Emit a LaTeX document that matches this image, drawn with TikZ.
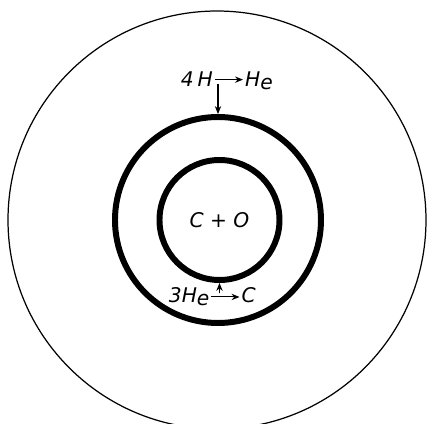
\documentclass[tikz,border=0pt]{standalone}
\usepackage{fontspec}
\usetikzlibrary{arrows.meta,positioning}
\newfontfamily\leroy[LetterSpace=20]{DejaVu Sans}
\newfontfamily\leroytight{DejaVu Sans}

\begin{document}
\begin{tikzpicture}[ring/.style={draw, circle, line width=3.4pt, inner sep=0pt},
  lettering/.style={font=\leroy\itshape\fontsize{11.5}{13}\selectfont, inner sep=1pt},
  tightlettering/.style={font=\leroytight\itshape\fontsize{11.5}{13}\selectfont, inner sep=1pt},
  flow/.style={-{Stealth[length=4.5pt,width=3.6pt]}, line width=0.6pt}]

\useasboundingbox (-4.36,-4.08) rectangle (4.20,4.40);

\node[draw, circle, line width=0.7pt, minimum size=8.36cm] (star) at (-0.02,0) {};

\node[ring, minimum size=4.12cm] (shell) at (0,0) {};

\node[ring, tightlettering, minimum size=2.4cm] (core) at (0.03,0) {C + O};

\node[lettering, anchor=base east] (h4) at (-0.06,2.66) {4H};

\node[lettering, anchor=base west] (heA) at (0.50,2.66) {H\raisebox{-1.5pt}{e}};

\node[tightlettering, anchor=base east] (he3) at (-0.13,-1.66) {3H\raisebox{-1.5pt}{e}};

\node[tightlettering, anchor=base west] (carbon) at (0.43,-1.66) {C};

\draw[flow] (h4.east) -- (h4.east -| heA.west);
\draw[flow] ([yshift=-2.5pt]shell.north |- h4.east) -- (shell.north);

\draw[flow] (he3.east) -- (he3.east -| carbon.west);
\draw[flow] ([yshift=2pt]core.south |- he3.east) -- (core.south);

\end{tikzpicture}
\end{document}
